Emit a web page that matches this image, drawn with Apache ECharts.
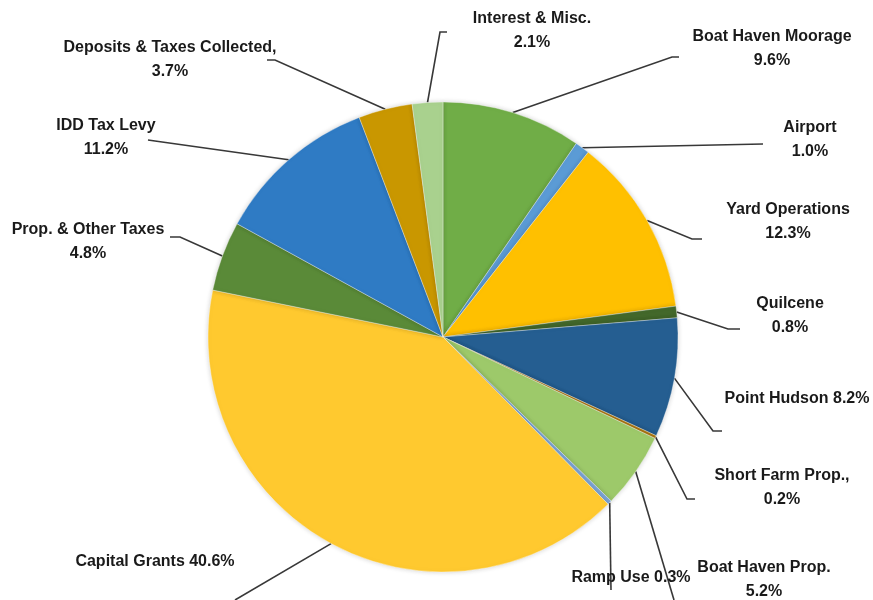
<!DOCTYPE html>
<html>
<head>
<meta charset="utf-8">
<script src="https://cdn.jsdelivr.net/npm/echarts@6/dist/echarts.min.js"></script>
<style>
html,body{margin:0;padding:0;background:#fff;}
#chart{width:873px;height:600px;}
</style>
</head>
<body>
<div id="chart"></div>
<script>
// ---- data ----
var categories = ["Boat Haven Moorage","Airport","Yard Operations","Quilcene","Point Hudson",
  "Short Farm Prop.,","Boat Haven Prop.","Ramp Use","Capital Grants","Prop. & Other Taxes",
  "IDD Tax Levy","Deposits & Taxes Collected,","Interest & Misc."];
var shares = [9.6, 1.0, 12.3, 0.8, 8.2, 0.2, 5.2, 0.3, 40.6, 4.8, 11.2, 3.7, 2.1];
var singleLineLabels = ["Point Hudson","Ramp Use","Capital Grants"];

// ---- styles ----
var colors = ["#70AD47","#5B9BD5","#FFC000","#43682B","#255E91","#B07A12","#9DC96A",
  "#7EA7D8","#FFC92F","#5A8A38","#2F7BC4","#C99700","#A9D18E"];
// label anchor (center of text block) and leader-line bend/end points
var labelPos = [[772,49],[810,140],[788,222],[790,316],[797,399],[782,488],[764,580],
  [631,578],[155,562],[88,242],[106,138],[170,60],[532,31]];
var linePts = [
  [[672,57],[679,57]], [[763,144],[763,144]], [[692,239],[702,239]], [[728,329],[740,329]],
  [[713,431],[722,431]], [[687,499],[695,499]], [[674,600],[674,600]], [[611,590],[611,590]],
  [[235,600],[235,600]], [[180,237],[170,237]], [[155,141],[148,140]], [[275,60],[267,60]],
  [[440,32],[447,32]]
];

var data = categories.map(function(c,i){
  return {name:c, value:shares[i], itemStyle:{color:colors[i]}};
});

var chart = echarts.init(document.getElementById('chart'), null, {renderer:'canvas'});
chart.setOption({
  backgroundColor:'#ffffff',
  animation:false,
  series:[{
    type:'pie',
    center:[443,337],
    radius:235,
    startAngle:90,
    clockwise:true,
    avoidLabelOverlap:false,
    data:data,
    itemStyle:{borderColor:'rgba(255,255,255,0.6)',borderWidth:0.6,
      shadowBlur:5,shadowColor:'rgba(0,0,0,0.18)'},
    label:{
      show:true,
      position:'outside',
      color:'#1a1a1a',
      fontFamily:'"Liberation Sans", Arial, sans-serif',
      fontWeight:'bold',
      fontSize:16,
      lineHeight:24,
      align:'center',
      formatter:function(p){
        var pct = p.value.toFixed(1)+'%';
        return singleLineLabels.indexOf(p.name)>=0 ? p.name+' '+pct : p.name+'\n'+pct;
      }
    },
    labelLine:{show:true,length:10,length2:10,lineStyle:{color:'#383838',width:1.6}},
    labelLayout:function(params){
      var i = params.dataIndex;
      var start = params.labelLinePoints ? params.labelLinePoints[0] : null;
      var res = {x:labelPos[i][0], y:labelPos[i][1], align:'center', verticalAlign:'middle'};
      if(start){
        res.labelLinePoints = [start, linePts[i][0], linePts[i][1]];
      }
      return res;
    }
  }]
});
</script>
</body>
</html>
